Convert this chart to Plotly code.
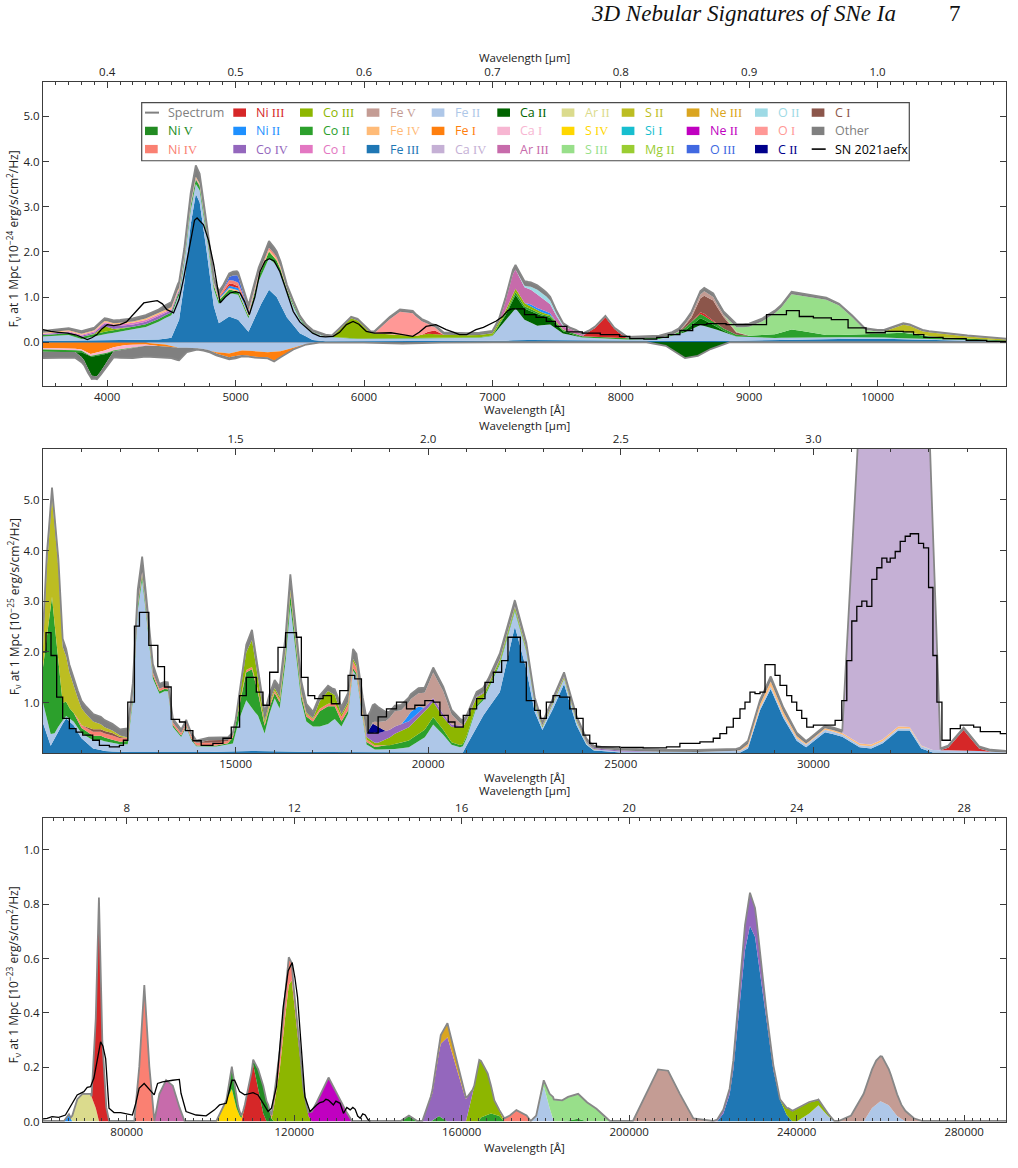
import plotly.graph_objects as go

FIG_W, FIG_H = 1018, 1168
FONT = "Open Sans"
SERIF = "Liberation Serif"

# ---------------------------------------------------------------- colours
COLORS = {
    "Ni III": "#d62728", "Ni V": "#228b22", "Ni IV": "#fa8072", "Ni II": "#1e90ff",
    "Co IV": "#9467bd", "Co III": "#8db600", "Co II": "#2ca02c", "Co I": "#e377c2",
    "Fe V": "#c49c94", "Fe IV": "#ffbb78", "Fe III": "#1f77b4", "Fe II": "#aec7e8",
    "Fe I": "#ff7f0e", "Ca IV": "#c5b0d5", "Ca II": "#006400", "Ca I": "#f7b6d2",
    "Ar III": "#c76bab", "Ar II": "#dbdb8d", "S IV": "#ffd700", "S III": "#98df8a",
    "S II": "#bcbd22", "Si I": "#17becf", "Mg II": "#9acd32", "Ne III": "#daa520",
    "Ne II": "#c000c0", "O III": "#4169e1", "O II": "#9edae5", "O I": "#ff9896",
    "C II": "#00008b", "C I": "#8c564b", "Other": "#808080",
    "Spectrum": "#808080", "SN 2021aefx": "#000000",
}

# legend layout (column-major, as in the reference)
LEGEND_COLUMNS = [
    ["Spectrum", "Ni V", "Ni IV"], ["Ni III", "Ni II", "Co IV"], ["Co III", "Co II", "Co I"],
    ["Fe V", "Fe IV", "Fe III"], ["Fe II", "Fe I", "Ca IV"], ["Ca II", "Ca I", "Ar III"],
    ["Ar II", "S IV", "S III"], ["S II", "Si I", "Mg II"], ["Ne III", "Ne II", "O III"],
    ["O II", "O I", "C II"], ["C I", "Other", "SN 2021aefx"],
]

# ================================================================ PANEL 1 (optical, 1e-24)
# (wavelength [A], flux) pairs, positive contributions
P1_FE3 = [(3500, 0.03), (4000, 0.05), (4400, 0.06), (4500, 0.1), (4560, 0.5), (4600, 1.3), (4650, 2.6),
          (4690, 3.28), (4720, 3.1), (4780, 1.9), (4830, 0.8), (4870, 0.42), (4950, 0.57), (5020, 0.5),
          (5100, 0.23), (5180, 0.75), (5260, 1.16), (5320, 1.0), (5400, 0.55), (5500, 0.2), (5600, 0.05),
          (5700, 0.02), (6000, 0.02), (7000, 0.02), (7200, 0.05), (8000, 0.03), (8500, 0.02), (9000, 0.03),
          (9500, 0.07), (10000, 0.08), (10500, 0.04), (11000, 0.02)]
P1_FE2 = [(3500, 0.1), (3700, 0.12), (3800, 0.03), (3950, 0.12), (4100, 0.18), (4300, 0.28), (4450, 0.45),
          (4550, 0.55), (4600, 0.45), (4690, 0.22), (4780, 0.35), (4850, 0.4), (4950, 0.52), (5020, 0.55),
          (5100, 0.3), (5180, 0.6), (5260, 0.7), (5350, 0.7), (5450, 0.42), (5550, 0.2), (5700, 0.1),
          (5900, 0.05), (6300, 0.06), (6600, 0.06), (6900, 0.08), (7000, 0.12), (7100, 0.45), (7180, 0.7),
          (7250, 0.45), (7350, 0.32), (7450, 0.35), (7550, 0.15), (7700, 0.07), (8000, 0.03), (8300, 0.05),
          (8500, 0.2), (8620, 0.36), (8700, 0.3), (8900, 0.1), (9200, 0.05), (10000, 0.03), (11000, 0.01)]
P1_CA2 = [(7000, 0), (7100, 0.1), (7180, 0.3), (7250, 0.25), (7350, 0.25), (7450, 0.15), (7550, 0.05),
          (7700, 0), (8450, 0), (8550, 0.08), (8620, 0.15), (8700, 0.1), (8800, 0.03), (8900, 0)]
P1_CO2 = [(3500, 0.03), (3900, 0.05), (4300, 0.06), (4500, 0.06), (4690, 0.1), (4800, 0.08), (4950, 0.08),
          (5100, 0.05), (5260, 0.15), (5400, 0.05), (5600, 0.01), (7000, 0.01), (7180, 0.06), (7400, 0.03),
          (8400, 0.02), (8600, 0.1), (8800, 0.05), (9000, 0.03), (9200, 0.08), (9330, 0.18), (9450, 0.12),
          (9600, 0.05), (9800, 0.05), (10000, 0.08), (10200, 0.12), (10400, 0.06), (10700, 0.03), (11000, 0.01)]
P1_CO3 = [(3900, 0), (3980, 0.12), (4050, 0.03), (4200, 0), (5750, 0), (5850, 0.3), (5900, 0.45),
          (5950, 0.4), (6050, 0.12), (6200, 0.08), (6400, 0.05), (6500, 0.1), (6600, 0.08), (6800, 0.05),
          (7000, 0.05), (7200, 0.08), (7500, 0.02), (7700, 0)]
P1_CO4 = [(3500, 0.02), (3900, 0.03), (4000, 0.07), (4200, 0.05), (4400, 0.06), (4550, 0.04), (4700, 0.02),
          (4800, 0)]
P1_CO1 = [(3500, 0.01), (4000, 0.03), (4300, 0.04), (4500, 0.03), (4700, 0)]
P1_FE4 = [(3500, 0.02), (4200, 0.03), (4500, 0.04), (4700, 0.04), (4900, 0.03), (5300, 0.04), (5500, 0)]
P1_NI2 = [(4800, 0), (4950, 0.05), (5050, 0.05), (5200, 0), (7250, 0), (7300, 0.05), (7380, 0.06),
          (7450, 0.04), (7500, 0)]
P1_NI3 = [(4850, 0), (4980, 0.06), (5100, 0), (6450, 0), (6550, 0.08), (6620, 0), (7700, 0), (7800, 0.2),
          (7880, 0.45), (7950, 0.2), (8050, 0), (8550, 0), (8650, 0.05), (8750, 0)]
P1_NI4 = [(4800, 0), (4950, 0.08), (5050, 0.08), (5150, 0.03), (5200, 0.03), (5300, 0.05), (5400, 0)]
P1_O3 = [(4900, 0), (4960, 0.08), (5010, 0.15), (5060, 0.05), (5110, 0)]
P1_O1 = [(6080, 0), (6180, 0.3), (6280, 0.52), (6380, 0.5), (6450, 0.3), (6530, 0.1), (6620, 0)]
P1_AR3 = [(7050, 0), (7100, 0.2), (7160, 0.45), (7250, 0.35), (7350, 0.3), (7450, 0.2), (7550, 0.07),
          (7650, 0.06), (7750, 0)]
P1_O2 = [(7200, 0), (7280, 0.05), (7350, 0.1), (7420, 0.1), (7500, 0.05), (7600, 0)]
P1_C1 = [(8450, 0), (8550, 0.1), (8650, 0.4), (8720, 0.45), (8800, 0.25), (8900, 0.05), (9000, 0)]
P1_FE5 = [(8400, 0), (8500, 0.03), (8650, 0.1), (8800, 0.05), (8950, 0)]
P1_S3 = [(8800, 0), (9000, 0.2), (9100, 0.3), (9250, 0.55), (9330, 0.78), (9450, 0.78), (9600, 0.78),
         (9700, 0.65), (9800, 0.4), (9900, 0.1), (10000, 0.05), (10300, 0.02), (10500, 0)]
P1_S2 = [(10050, 0), (10200, 0.15), (10250, 0.15), (10350, 0.08), (10500, 0.08), (10700, 0.05), (11000, 0.02)]
P1_OTHER = [(3500, 0.04), (3700, 0.05), (4000, 0.06), (4400, 0.08), (4600, 0.15), (4690, 0.25), (4800, 0.12),
            (4950, 0.08), (5260, 0.15), (5500, 0.05), (5800, 0.03), (6300, 0.05), (7000, 0.05), (7180, 0.1),
            (7400, 0.1), (7600, 0.03), (8000, 0.03), (8700, 0.08), (9400, 0.05), (10200, 0.03), (11000, 0.02)]
# negative contributions
P1N_FE2 = [(3500, -0.01), (4300, -0.01), (4450, -0.05), (4550, -0.12), (4650, -0.12), (4750, -0.15),
           (4850, -0.22), (4950, -0.25), (5050, -0.18), (5150, -0.2), (5250, -0.22), (5350, -0.2),
           (5450, -0.12), (5550, -0.04), (5650, 0)]
P1N_FE1 = [(3500, -0.12), (3700, -0.12), (3800, -0.15), (3870, -0.25), (3950, -0.2), (4050, -0.1),
           (4150, -0.05), (4300, -0.04), (4450, -0.05), (4550, 0), (4800, 0), (4950, -0.08), (5050, -0.1),
           (5150, -0.12), (5250, -0.12), (5300, -0.2), (5350, -0.12), (5450, -0.03), (5550, 0)]
P1N_CA1 = [(3500, -0.03), (3800, -0.03), (4000, -0.07), (4150, -0.08), (4300, -0.03), (4400, 0)]
P1N_CO2 = [(3500, -0.05), (3700, -0.05), (3850, -0.02), (4000, -0.02), (4200, -0.01), (4300, 0)]
P1N_CA2 = [(3750, 0), (3820, -0.15), (3880, -0.42), (3920, -0.45), (3980, -0.25), (4050, 0), (8200, 0),
           (8350, -0.08), (8500, -0.35), (8600, -0.3), (8700, -0.15), (8850, 0)]
P1N_OTHER = [(3500, -0.14), (3700, -0.14), (3850, -0.1), (3900, -0.06), (4000, -0.1), (4100, -0.17),
             (4200, -0.22), (4300, -0.24), (4400, -0.26), (4500, -0.24), (4560, -0.28), (4620, -0.1),
             (4700, -0.03), (4900, -0.05), (5000, -0.05), (5100, -0.02), (5500, -0.01), (6000, -0.01),
             (6300, -0.03), (6600, -0.01), (7000, 0), (11000, 0)]
# observed spectrum
P1_SN = [(3500, 0.28), (3560, 0.24), (3620, 0.22), (3690, 0.2), (3760, 0.16), (3800, 0.12), (3845, 0.06),
         (3880, 0.1), (3920, 0.17), (3960, 0.3), (4000, 0.39), (4050, 0.37), (4100, 0.39), (4150, 0.45),
         (4200, 0.61), (4250, 0.75), (4285, 0.87), (4340, 0.9), (4390, 0.92), (4430, 0.85), (4465, 0.72),
         (4517, 0.65), (4560, 0.95), (4595, 1.41), (4640, 2.1), (4680, 2.7), (4700, 2.75), (4750, 2.6),
         (4790, 2.25), (4830, 1.71), (4860, 1.2), (4880, 0.87), (4920, 1.0), (4957, 1.09), (5000, 1.12),
         (5035, 1.09), (5070, 0.9), (5107, 0.61), (5150, 1.0), (5190, 1.56), (5230, 1.8), (5263, 1.85),
         (5300, 1.8), (5345, 1.56), (5400, 1.1), (5449, 0.68), (5500, 0.45), (5552, 0.32), (5600, 0.2),
         (5656, 0.13), (5700, 0.12), (5760, 0.13), (5810, 0.22), (5863, 0.39), (5915, 0.46), (5960, 0.4),
         (6018, 0.24), (6080, 0.2), (6147, 0.2), (6210, 0.21), (6277, 0.18), (6330, 0.16), (6380, 0.13),
         (6430, 0.22), (6484, 0.35), (6560, 0.39), (6640, 0.28), (6700, 0.22), (6743, 0.17), (6800, 0.17),
         (6872, 0.28), (6930, 0.33), (6975, 0.39), (7030, 0.47), (7080, 0.57), (7120, 0.7), (7150, 0.74)]
P1_SN_STEPS = [(7150, 0.74), (7250, 0.61), (7340, 0.55), (7420, 0.46), (7490, 0.35), (7580, 0.23),
               (7700, 0.2), (7840, 0.17), (7990, 0.13), (8070, 0.08), (8180, 0.07), (8280, 0.11),
               (8370, 0.17), (8460, 0.26), (8560, 0.39), (8670, 0.41), (8820, 0.39), (8980, 0.39),
               (9135, 0.61), (9290, 0.7), (9390, 0.57), (9500, 0.54), (9640, 0.5), (9770, 0.32),
               (9910, 0.21), (10060, 0.24), (10200, 0.23), (10280, 0.17), (10360, 0.11), (10510, 0.08),
               (10690, 0.04), (10850, 0.02), (11000, 0.02)]

# ================================================================ PANEL 2 (near-IR, 1e-25)
P2_FE3 = [(10000, 0.6), (10100, 0.35), (10200, 0.15), (10400, 0.45), (10600, 0.69), (10800, 0.55),
          (11000, 0.3), (11300, 0.1), (11600, 0.05), (12000, 0.03), (14000, 0.02), (15000, 0.05),
          (15500, 0.05), (16500, 0.03), (18000, 0.03), (20000, 0.02), (20900, 0.02), (21100, 0.3),
          (21430, 0.75), (21860, 1.21), (22250, 2.5), (22547, 1.66), (22764, 0.82), (22964, 0.46),
          (23241, 0.88), (23527, 1.37), (23847, 0.56), (24107, 0.17), (24300, 0.06), (25000, 0.02),
          (28100, 0.02), (28300, 0.1), (28614, 0.85), (28891, 1.27), (29220, 0.7), (29567, 0.25),
          (29810, 0.12), (30300, 0.42), (30700, 0.35), (31200, 0.12), (31500, 0.1), (31800, 0.2),
          (32200, 0.45), (32500, 0.45), (32800, 0.1), (33100, 0.02), (35000, 0)]
P2_FE2 = [(10000, 0.4), (10150, 0.3), (10300, 0.1), (10600, 0.05), (11000, 0.1), (11500, 0.2), (12000, 0.15),
          (12200, 0.15), (12331, 1.0), (12461, 2.8), (12574, 3.4), (12678, 2.7), (12851, 1.45), (13024, 1.15),
          (13154, 1.2), (13241, 1.2), (13371, 0.5), (13587, 0.3), (13717, 0.5), (13847, 0.25), (13977, 0.12),
          (14500, 0.1), (14931, 0.15), (15104, 0.65), (15277, 1.0), (15425, 0.83), (15581, 0.7),
          (15754, 0.35), (15884, 0.75), (16014, 1.05), (16144, 0.85), (16300, 1.8), (16421, 2.9),
          (16577, 1.9), (16707, 1.0), (16837, 0.6), (17010, 0.5), (17184, 0.5), (17400, 0.55), (17574, 0.65),
          (17747, 0.5), (17920, 0.75), (18050, 1.6), (18137, 1.5), (18267, 0.8), (18397, 0.15), (18614, 0.05),
          (19000, 0.05), (19500, 0.1), (19913, 0.3), (20130, 0.55), (20390, 0.35), (20607, 0.15),
          (20823, 0.1), (21000, 0.15), (21257, 0.4), (21430, 0.3), (21860, 0.55), (22253, 0.3), (22547, 0.35),
          (22764, 0.15), (22964, 0.05), (23241, 0.1), (23527, 0.1), (23847, 0.08), (24200, 0.02),
          (27000, 0.01), (28891, 0.05), (30000, 0.05), (32000, 0.04), (33900, 0.05), (35000, 0.02)]
P2_CO2 = [(10000, 0.7), (10100, 1.6), (10234, 2.7), (10381, 1.5), (10511, 0.35), (10700, 0.2), (11000, 0.1),
          (11500, 0.08), (12000, 0.05), (12574, 0.1), (13000, 0.05), (14000, 0.02), (14800, 0.02),
          (15104, 0.25), (15277, 0.55), (15425, 0.78), (15581, 0.45), (15754, 0.15), (16014, 0.1),
          (16300, 0.15), (16421, 0.2), (16600, 0.1), (17010, 0.1), (17184, 0.3), (17400, 0.35), (17574, 0.25),
          (17747, 0.1), (18050, 0.05), (18614, 0.05), (19134, 0.1), (19700, 0.15), (20130, 0.15),
          (20600, 0.05), (22253, 0.03), (23000, 0)]
P2_NI4 = [(10800, 0), (10900, 0.05), (11300, 0.08), (11800, 0.08), (12300, 0.05), (13000, 0.05),
          (14000, 0.05), (14500, 0.06), (15000, 0.04), (16000, 0.05), (17400, 0.05), (18050, 0.13),
          (18397, 0.05), (19000, 0)]
P2_C1 = [(11000, 0), (11300, 0.05), (11800, 0.05), (12200, 0), (14000, 0), (14300, 0.05), (14600, 0.04),
         (15000, 0)]
P2_CO3 = [(15000, 0), (15277, 0.35), (15425, 0.53), (15581, 0.25), (15754, 0.05), (16421, 0.05),
          (17010, 0.02), (17184, 0.15), (17400, 0.25), (17574, 0.15), (17747, 0.05), (18050, 0.05),
          (18700, 0.05), (19134, 0.2), (19437, 0.25), (19700, 0.3), (19913, 0.35), (20130, 0.3),
          (20390, 0.25), (20607, 0.3), (20823, 0.35), (21000, 0.3), (21257, 0.15), (21560, 0.05),
          (22253, 0.05), (23000, 0.03), (23600, 0.04), (24000, 0.02), (24500, 0)]
P2_CO4 = [(18300, 0), (18614, 0.2), (19000, 0.15), (19500, 0.12), (20000, 0.08), (20600, 0.05),
          (21000, 0.02), (24200, 0.02), (25000, 0.02), (26000, 0)]
P2_C2 = [(18400, 0), (18560, 0.18), (18700, 0.12), (18900, 0)]
P2_NI2 = [(19300, 0), (19550, 0.15), (19750, 0.12), (19900, 0)]
P2_FE5 = [(18500, 0), (18800, 0.15), (19134, 0.3), (19437, 0.25), (19700, 0.25), (19913, 0.3),
          (20130, 0.5), (20390, 0.45), (20607, 0.2), (20823, 0.05), (21000, 0)]
P2_FE4 = [(28000, 0), (28300, 0.05), (28900, 0.1), (29500, 0.05), (29900, 0.02), (30300, 0.03),
          (32300, 0.04), (33000, 0)]
P2_S2 = [(10000, 0.4), (10100, 1.4), (10234, 1.95), (10381, 1.9), (10511, 1.1), (10684, 0.7), (10900, 0.4),
         (11117, 0.25), (11300, 0.15), (11600, 0.07), (12000, 0.03), (12300, 0)]
P2_CA4 = [(30750, 0), (31200, 6.5), (33000, 6.5), (33300, 0)]
P2_NI3 = [(33300, 0), (33500, 0.05), (33900, 0.4), (34300, 0.05), (34600, 0)]
P2_OTHER = [(10000, 0.3), (10234, 0.2), (10600, 0.15), (11000, 0.15), (11500, 0.15), (12000, 0.12),
            (12574, 0.3), (13000, 0.1), (13500, 0.07), (14000, 0.05), (15000, 0.05), (15425, 0.2),
            (16000, 0.15), (16421, 0.3), (17000, 0.12), (17500, 0.1), (18050, 0.2), (18397, 0.3),
            (18614, 0.35), (19000, 0.12), (19500, 0.1), (20130, 0.1), (21000, 0.08), (22253, 0.12),
            (23000, 0.05), (23527, 0.07), (24500, 0.04), (28000, 0.04), (28891, 0.1), (29800, 0.05),
            (30500, 0.05), (33000, 0.03), (34000, 0.05), (35000, 0.03)]
P2_SN_STEPS = [(10000, 2.0), (10078, 2.38), (10208, 1.93), (10355, 1.11), (10511, 0.69), (10684, 0.49),
               (10858, 0.42), (11031, 0.36), (11291, 0.26), (11464, 0.16), (11724, 0.13), (11984, 0.16),
               (12088, 0.26), (12201, 1.01), (12374, 2.51), (12504, 2.78), (12747, 2.13), (12981, 1.71),
               (13154, 1.31), (13327, 0.67), (13544, 0.62), (13700, 0.45), (13891, 0.25), (14107, 0.16),
               (14411, 0.2), (14671, 0.3), (14887, 0.52), (15104, 1.14), (15277, 1.5), (15537, 1.21),
               (15711, 0.95), (15884, 1.6), (16101, 2.09), (16300, 2.38), (16577, 2.29), (16707, 1.5),
               (16880, 1.14), (17054, 1.08), (17271, 1.14), (17487, 0.98), (17704, 1.24), (17920, 1.54),
               (18094, 1.47), (18267, 0.75), (18440, 0.4), (18700, 0.72), (18917, 0.88), (19177, 1.01),
               (19437, 0.88), (19654, 0.95), (19913, 1.04), (20130, 1.01), (20304, 0.75), (20520, 0.62),
               (20694, 0.52), (20910, 0.75), (21083, 0.88), (21257, 1.08), (21474, 1.4), (21690, 1.6),
               (21907, 1.83), (22071, 2.29), (22392, 1.8), (22547, 1.04), (22764, 0.85), (22911, 0.69),
               (23067, 1.01), (23241, 1.14), (23414, 1.11), (23674, 0.88), (23847, 0.69), (24021, 0.36),
               (24194, 0.2), (24367, 0.13), (24974, 0.12), (25581, 0.11), (26187, 0.13), (26534, 0.2),
               (27054, 0.23), (27400, 0.3), (27574, 0.39), (27747, 0.52), (27920, 0.69), (28094, 0.88),
               (28224, 1.01), (28354, 1.21), (28484, 1.18), (28614, 1.21), (28744, 1.75), (29004, 1.54),
               (29134, 1.34), (29307, 1.14), (29437, 1.01), (29567, 0.85), (29697, 0.69), (29827, 0.52),
               (30000, 0.56), (30564, 0.65), (30737, 1.04), (30867, 1.83), (30997, 2.61), (31127, 2.9),
               (31257, 3.0), (31387, 2.9), (31517, 3.43), (31647, 3.66), (31777, 3.85), (31907, 3.77),
               (31994, 3.85), (32124, 3.98), (32254, 4.18), (32384, 4.28), (32514, 4.33), (32730, 4.14),
               (32860, 4.05), (32990, 3.27), (33103, 1.93), (33207, 1.01), (33337, 0.26), (33553, 0.49),
               (33813, 0.56), (34160, 0.52), (34333, 0.43), (34853, 0.39), (35000, 0.39)]

# ================================================================ PANEL 3 (mid-IR, 1e-23)
P3_FE3 = [(221000, 0), (222500, 0.03), (224000, 0.1), (224870, 0.19), (226460, 0.45), (227660, 0.63),
          (228850, 0.72), (230050, 0.68), (231240, 0.55), (232840, 0.36), (234430, 0.19), (236020, 0.08),
          (237620, 0.024), (239000, 0)]
P3_FE2 = [(176500, 0), (177800, 0.02), (179600, 0.13), (181000, 0.05), (182000, 0), (240000, 0),
          (243000, 0.03), (245200, 0.06), (247500, 0.02), (249000, 0), (256000, 0), (258000, 0.05),
          (260000, 0.075), (262000, 0.06), (264000, 0.02), (266000, 0)]
P3_NI2 = [(65000, 0), (66200, 0.025), (67000, 0)]
P3_AR2 = [(66600, 0), (68200, 0.08), (69400, 0.1), (71400, 0.1), (72600, 0.05), (73400, 0)]
P3_NI3 = [(71600, 0), (72560, 0.3), (73360, 0.82), (74160, 0.3), (75120, 0.05), (75800, 0), (107400, 0),
          (109000, 0.12), (110200, 0.21), (111400, 0.12), (112600, 0.03), (113400, 0)]
P3_AR3 = [(86600, 0), (87800, 0.1), (89400, 0.15), (91000, 0.13), (92600, 0.05), (93800, 0)]
P3_S4 = [(101400, 0), (103000, 0.05), (105100, 0.12), (106200, 0.05), (107000, 0.02), (108200, 0)]
P3_CO2 = [(103800, 0), (105100, 0.08), (106600, 0.02), (107800, 0), (145400, 0), (147400, 0.02),
          (149400, 0), (152600, 0), (154600, 0.02), (156600, 0), (164000, 0), (164600, 0.015),
          (167000, 0.03), (169000, 0.02), (170200, 0), (184000, 0), (187800, 0.01), (190000, 0)]
P3_NI5 = [(109800, 0), (110300, 0.02), (111400, 0.07), (112600, 0.1), (113800, 0.06), (114600, 0.01),
          (115200, 0)]
P3_CO3 = [(114600, 0), (116600, 0.2), (118600, 0.5), (119400, 0.52), (121000, 0.3), (122200, 0.12),
          (123400, 0.02), (124200, 0), (161000, 0), (162600, 0.1), (164200, 0.22), (166200, 0.15),
          (167800, 0.05), (169000, 0.02), (170200, 0), (236000, 0), (238000, 0.03), (240000, 0.045),
          (243000, 0.04), (245000, 0.02), (247000, 0.01), (249000, 0)]
P3_NI4 = [(81800, 0), (83000, 0.2), (84200, 0.5), (85400, 0.2), (86600, 0), (114200, 0), (115800, 0.05),
          (117800, 0.08), (118700, 0.1), (119800, 0.04), (121000, 0.02), (122000, 0), (169000, 0),
          (171500, 0.02), (173060, 0.04), (175500, 0.02), (176500, 0)]
P3_NE2 = [(123000, 0), (125400, 0.07), (128200, 0.16), (130200, 0.1), (132600, 0.03), (133800, 0)]
P3_CO4 = [(150600, 0), (153000, 0.1), (155000, 0.27), (156600, 0.31), (158600, 0.2), (160600, 0.1),
          (162200, 0.03), (163000, 0), (220000, 0), (224000, 0.02), (226000, 0.05), (228850, 0.12),
          (230400, 0.1), (232000, 0.05), (234000, 0.02), (236000, 0)]
P3_NE3 = [(152000, 0), (155000, 0.03), (156600, 0.05), (159000, 0.03), (160600, 0.01), (161400, 0)]
P3_S3 = [(177800, 0), (179600, 0.02), (181000, 0.05), (181830, 0.08), (183820, 0.075), (185400, 0.085),
         (187810, 0.09), (189800, 0.07), (192190, 0.045), (195400, 0)]
P3_FE5 = [(200900, 0), (204100, 0.1), (206900, 0.19), (209300, 0.185), (212100, 0.1), (215300, 0.01),
          (220000, 0), (250000, 0), (253000, 0.02), (256000, 0.1), (259000, 0.16), (260400, 0.165),
          (262500, 0.12), (265000, 0.05), (268000, 0.01), (270000, 0)]
P3_OTHER = [(60000, 0.002), (290000, 0.002)]
P3_SN = [(59760, 0.009), (61000, 0.012), (62160, 0.018), (63760, 0.015), (65360, 0.024), (66560, 0.055),
         (68160, 0.098), (69760, 0.11), (70560, 0.126), (71360, 0.128), (72160, 0.16), (72960, 0.226),
         (73760, 0.293), (74320, 0.277), (74960, 0.232), (75760, 0.049), (76960, 0.033), (78560, 0.033),
         (79760, 0.03), (81360, 0.024), (82160, 0.067), (82960, 0.122), (84160, 0.14), (85760, 0.11),
         (86560, 0.098), (87360, 0.14), (88560, 0.146), (90960, 0.152), (92560, 0.155), (92960, 0.104),
         (94160, 0.037), (96560, 0.024), (98960, 0.021), (100960, 0.043), (102160, 0.061), (103760, 0.067),
         (105120, 0.152), (105760, 0.152), (106960, 0.11), (108160, 0.098), (110160, 0.106),
         (111360, 0.098), (112560, 0.067), (113760, 0.037), (114560, 0.049), (115760, 0.128),
         (117360, 0.42), (118560, 0.555), (119520, 0.585), (120160, 0.53), (120800, 0.457),
         (121760, 0.238), (122560, 0.091), (123760, 0.037), (124560, 0.05), (125360, 0.061),
         (126160, 0.07), (126960, 0.073), (127560, 0.082), (128160, 0.079), (128760, 0.07),
         (129360, 0.061), (129960, 0.075), (130960, 0.067), (131760, 0.03), (132560, 0.052),
         (133360, 0.043), (134000, 0.052), (134560, 0.045), (135160, 0.02), (135760, 0.012),
         (136360, 0.028), (136960, 0.024), (137560, 0.008), (138160, 0.0)]

# stacking order (bottom -> top) for each panel
P1_POS = [("Fe III", P1_FE3), ("Fe II", P1_FE2), ("Ca II", P1_CA2), ("Co II", P1_CO2), ("Co III", P1_CO3),
          ("Co IV", P1_CO4), ("Co I", P1_CO1), ("Fe IV", P1_FE4), ("Ni II", P1_NI2), ("Ni III", P1_NI3),
          ("Ni IV", P1_NI4), ("O III", P1_O3), ("O I", P1_O1), ("Ar III", P1_AR3), ("O II", P1_O2),
          ("C I", P1_C1), ("Fe V", P1_FE5), ("S III", P1_S3), ("S II", P1_S2), ("Other", P1_OTHER)]
P1_NEG = [("Fe II", P1N_FE2), ("Fe I", P1N_FE1), ("Ca I", P1N_CA1), ("Co II", P1N_CO2), ("Ca II", P1N_CA2),
          ("Other", P1N_OTHER)]
P2_POS = [("Fe III", P2_FE3), ("Fe II", P2_FE2), ("Co II", P2_CO2), ("Ni IV", P2_NI4), ("C I", P2_C1),
          ("Co III", P2_CO3), ("Co IV", P2_CO4), ("C II", P2_C2), ("Ni II", P2_NI2), ("Fe V", P2_FE5),
          ("Fe IV", P2_FE4), ("S II", P2_S2), ("Ca IV", P2_CA4), ("Ni III", P2_NI3), ("Other", P2_OTHER)]
P3_POS = [("Fe III", P3_FE3), ("Fe II", P3_FE2), ("Ni II", P3_NI2), ("Ar II", P3_AR2), ("Ni III", P3_NI3),
          ("Ar III", P3_AR3), ("S IV", P3_S4), ("Co II", P3_CO2), ("Ni V", P3_NI5), ("Co III", P3_CO3),
          ("Ni IV", P3_NI4), ("Ne II", P3_NE2), ("Co IV", P3_CO4), ("Ne III", P3_NE3), ("S III", P3_S3),
          ("Fe V", P3_FE5), ("Other", P3_OTHER)]

# ================================================================ geometry (pixels)
PLOT_X0, PLOT_X1 = 43, 1006
PANELS = [  # (y_top_px, y_bottom_px, x_range, y_range)
    dict(top=82, bot=388, xr=[3500, 11000], yr=[-0.961, 5.77]),
    dict(top=451.7, bot=758, xr=[10000, 35000], yr=[0.0, 6.0]),
    dict(top=822.7, bot=1128.3, xr=[60000, 290000], yr=[0.0, 1.118]),
]


def px(x):
    return x / FIG_W


def py(y):
    return 1 - y / FIG_H


fig = go.Figure()
AX = ["", "2", "3"]
TOP = ["4", "5", "6"]


def add_stack(specs, i, group):
    n = len(specs)
    for k, (name, pts) in enumerate(specs):
        wl, fl = zip(*pts)
        last = k == n - 1
        fig.add_trace(go.Scatter(
            x=list(wl), y=list(fl), xaxis="x" + AX[i], yaxis="y" + AX[i],
            stackgroup=group, stackgaps="interpolate", mode="lines",
            line=dict(width=1.8 if last else 0, color="#878787" if last else COLORS[name]),
            fillcolor=COLORS[name], showlegend=False, hoverinfo="skip", name=name))


add_stack(P1_POS, 0, "p1pos")
add_stack(P1_NEG, 0, "p1neg")
add_stack(P2_POS, 1, "p2")
add_stack(P3_POS, 2, "p3")

# observed spectrum
for i, pts, shape in [(0, P1_SN, "linear"), (0, P1_SN_STEPS, "hv"), (1, P2_SN_STEPS, "hv"),
                      (2, P3_SN, "linear")]:
    wl, fl = zip(*pts)
    fig.add_trace(go.Scatter(x=list(wl), y=list(fl), xaxis="x" + AX[i], yaxis="y" + AX[i], mode="lines",
                             line=dict(color="black", width=1.3, shape=shape), showlegend=False,
                             hoverinfo="skip", name="SN 2021aefx"))

# dummy traces for top (micron) axes
for i in range(3):
    fig.add_trace(go.Scatter(x=[PANELS[i]["xr"][0] / 1e4], y=[PANELS[i]["yr"][0]], xaxis="x" + TOP[i],
                             yaxis="y" + AX[i], mode="markers", marker=dict(opacity=0), showlegend=False,
                             hoverinfo="skip"))

AXC = "#3c3c3c"
common = dict(showline=True, linecolor=AXC, linewidth=1.3, ticks="inside", tickcolor=AXC, tickwidth=1,
              ticklen=6, showgrid=False, zeroline=False, layer="above traces",
              tickfont=dict(family=FONT, size=11.5, color="#222"))

BOTTOM_TICKS = [[4000, 5000, 6000, 7000, 8000, 9000, 10000], [15000, 20000, 25000, 30000],
                [80000, 120000, 160000, 200000, 240000, 280000]]
BOTTOM_MINOR = [200, 1000, 2000]
TOP_TICKS = [[0.4, 0.5, 0.6, 0.7, 0.8, 0.9, 1.0], [1.5, 2.0, 2.5, 3.0], [8, 12, 16, 20, 24, 28]]
TOP_FMT = ["{:.1f}", "{:.1f}", "{:d}"]
TOP_MINOR = [0.01, 0.1, 0.25]
Y_TICKS = [[0, 1, 2, 3, 4, 5], [1, 2, 3, 4, 5], [0, 0.2, 0.4, 0.6, 0.8, 1.0]]

layout = {}
for i, P in enumerate(PANELS):
    xd = [px(PLOT_X0), px(PLOT_X1)]
    yd = [py(P["bot"]), py(P["top"])]
    layout["xaxis" + AX[i]] = dict(
        common, domain=xd, anchor="y" + AX[i], range=P["xr"], side="bottom",
        tickvals=BOTTOM_TICKS[i], ticktext=[str(v) for v in BOTTOM_TICKS[i]],
        minor=dict(ticks="inside", ticklen=3, tickcolor=AXC, tickmode="linear", tick0=0,
                   dtick=BOTTOM_MINOR[i]))
    layout["xaxis" + TOP[i]] = dict(
        common, overlaying="x" + AX[i], anchor="y" + AX[i], side="top",
        range=[P["xr"][0] / 1e4, P["xr"][1] / 1e4],
        tickvals=TOP_TICKS[i], ticktext=[TOP_FMT[i].format(v) for v in TOP_TICKS[i]],
        minor=dict(ticks="inside", ticklen=3, tickcolor=AXC, tickmode="linear", tick0=0,
                   dtick=TOP_MINOR[i]))
    layout["yaxis" + AX[i]] = dict(
        common, domain=yd, anchor="x" + AX[i], range=P["yr"], mirror="ticks",
        tickvals=Y_TICKS[i], ticktext=["{:.1f}".format(v) for v in Y_TICKS[i]],
        zeroline=(i == 0), zerolinecolor="#1a1a1a", zerolinewidth=1.3)

fig.update_layout(**layout)

ann = []
shapes = []
EXP = ["−24", "−25", "−23"]
TITLE_Y = [(58, 412), (428.5, 782.5), (795.5, 1154)]
for i, P in enumerate(PANELS):
    cx = (PLOT_X0 + PLOT_X1) / 2
    ann.append(dict(x=px(cx), y=py(TITLE_Y[i][0]), text="Wavelength [μm]", showarrow=False,
                    xref="paper", yref="paper", xanchor="center", yanchor="middle",
                    font=dict(family=FONT, size=11.5, color="#222")))
    ann.append(dict(x=px(cx), y=py(TITLE_Y[i][1]), text="Wavelength [Å]", showarrow=False,
                    xref="paper", yref="paper", xanchor="center", yanchor="middle",
                    font=dict(family=FONT, size=11.5, color="#222")))
    ann.append(dict(x=px(14), y=py((P["top"] + P["bot"]) / 2 + 6), textangle=-90, showarrow=False,
                    xref="paper", yref="paper", xanchor="center", yanchor="middle",
                    text=f"F<sub>ν</sub> at 1 Mpc [10<sup>{EXP[i]}</sup> erg/s/cm<sup>2</sup>/Hz]",
                    font=dict(family=FONT, size=12, color="#222")))

# running header
ann.append(dict(x=px(898), y=py(14), text="<i>3D Nebular Signatures of SNe Ia</i>", showarrow=False,
                xref="paper", yref="paper", xanchor="right", yanchor="middle",
                font=dict(family=SERIF, size=23, color="#111")))
ann.append(dict(x=px(955), y=py(14), text="7", showarrow=False, xref="paper", yref="paper",
                xanchor="center", yanchor="middle", font=dict(family=SERIF, size=23, color="#111")))

# legend (drawn manually, column-major like matplotlib)
LEG_BOX = (141.7, 103.3, 909.3, 161.7)
LEG_COL_X = [145, 233.3, 300, 366.7, 431.7, 497.3, 561.7, 621.7, 686.7, 755, 811.7]
LEG_ROW_Y = [113.3, 131.7, 150]
shapes.append(dict(type="rect", xref="paper", yref="paper", x0=px(LEG_BOX[0]), x1=px(LEG_BOX[2]),
                   y0=py(LEG_BOX[3]), y1=py(LEG_BOX[1]), line=dict(color="#4a4a4a", width=1.2),
                   fillcolor="rgba(255,255,255,0.85)", layer="above"))


def label_html(name):
    parts = name.split(" ")
    if len(parts) == 2 and set(parts[1]) <= set("IV"):
        return f"{parts[0]} <span style='font-family:{SERIF}'>{parts[1]}</span>"
    return name


for c, col in enumerate(LEGEND_COLUMNS):
    for r, name in enumerate(col):
        x0 = LEG_COL_X[c]
        yc = LEG_ROW_Y[r]
        if name in ("Spectrum", "SN 2021aefx"):
            shapes.append(dict(type="line", xref="paper", yref="paper", x0=px(x0), x1=px(x0 + 14),
                               y0=py(yc), y1=py(yc), layer="above",
                               line=dict(color=COLORS[name], width=2 if name == "Spectrum" else 1.6)))
        else:
            shapes.append(dict(type="rect", xref="paper", yref="paper", x0=px(x0), x1=px(x0 + 12.7),
                               y0=py(yc + 4.2), y1=py(yc - 4.2), layer="above", line=dict(width=0),
                               fillcolor=COLORS[name]))
        ann.append(dict(x=px(x0 + 21), y=py(yc), text=label_html(name), showarrow=False,
                        xref="paper", yref="paper", xanchor="left", yanchor="middle",
                        font=dict(family=FONT, size=12.5, color=COLORS[name])))

fig.update_layout(
    width=FIG_W, height=FIG_H, margin=dict(l=0, r=0, t=0, b=0, pad=0),
    paper_bgcolor="white", plot_bgcolor="white", showlegend=False,
    annotations=ann, shapes=shapes, font=dict(family=FONT, size=12, color="#222"),
)

fig.write_html("out.html")
